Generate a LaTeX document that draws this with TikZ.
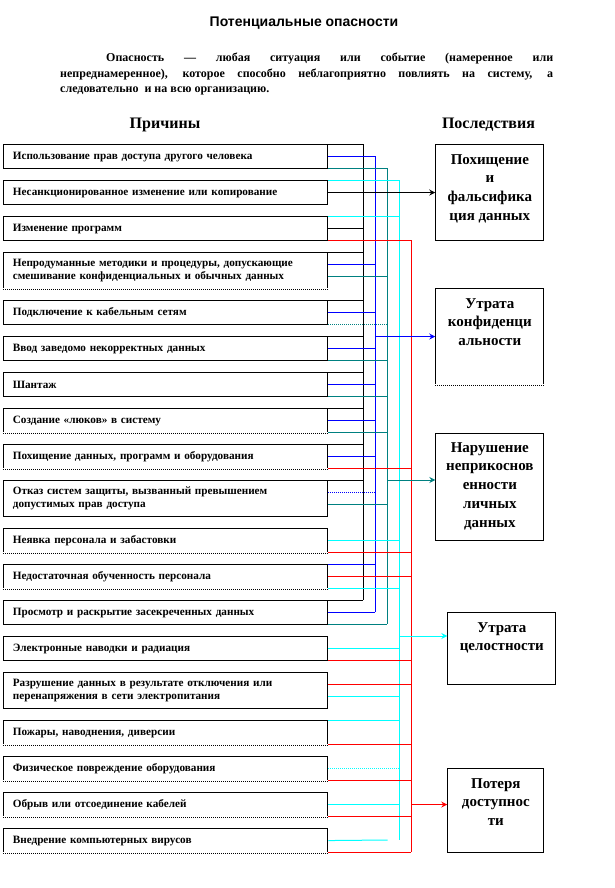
\documentclass[tikz,border=0pt]{standalone}
\usepackage{fontspec}
\setmainfont{Liberation Serif}
\newfontfamily\titlefont{Liberation Sans}
\usetikzlibrary{calc,arrows.meta}
\definecolor{cblue}{RGB}{0,0,255}
\definecolor{cteal}{RGB}{0,128,128}
\definecolor{ccyan}{RGB}{0,255,255}
\definecolor{cred}{RGB}{255,0,0}
\tikzset{
  cause/.style={draw, line width=1.1pt, rectangle, anchor=north west,
    minimum width=324pt, minimum height=24pt, inner xsep=9pt, inner ysep=0pt,
    text width=306pt, align=left, font=\fontsize{11.2}{12.8}\selectfont\bfseries},
  tallbox/.style={minimum height=36pt},
  conbox/.style={draw, line width=1.1pt, rectangle, anchor=north west, inner sep=0pt},
  context/.style={anchor=north, inner sep=0pt, align=center,
    font=\fontsize{15}{18.7}\selectfont\bfseries},
  head/.style={inner sep=0pt, font=\fontsize{16}{18}\selectfont\bfseries},
  wire/.style={line width=1pt},
  kwire/.style={wire, black},
  bwire/.style={wire, cblue},
  twire/.style={wire, cteal},
  cwire/.style={wire, ccyan},
  rwire/.style={wire, cred},
  dotwire/.style={dash pattern=on 1pt off 1pt},
  arr/.style={-{Stealth[length=6pt,width=6pt]}},
}
\newcommand\wireto[4]{\draw[#1] ($(#2.north east)+(0,#3)$) coordinate (wstart) -- (wstart -| #4);}
\newcommand\dotbot[1]{\draw[white, line width=1.5pt] (#1.south west) -- (#1.south east);
  \draw[line width=1.1pt, dash pattern=on 1pt off 1pt] (#1.south west) -- (#1.south east);}
\begin{document}
\begin{tikzpicture}[x=1pt,y=-1pt]
\useasboundingbox[fill=white] (0,0) rectangle (615,888);

\node[font=\titlefont\bfseries\fontsize{14}{16}\selectfont, inner sep=0pt] (title) at (304,23) {Потенциальные опасности};
\node[anchor=north west, inner sep=0pt, text width=493pt, align=justify,
  font=\fontsize{12}{15.5}\selectfont\bfseries] (para) at (60,53)
  {\hspace*{46pt}Опасность — любая ситуация или событие (намеренное или\linebreak
   непреднамеренное), которое способно неблагоприятно повлиять на систему, а\linebreak
   следовательно\ \ и на всю организацию.};
\node[head] (causes) at (165,125) {Причины};
\node[head] (effects) at (488.5,125) {Последствия};

% causes
\node[cause] (b1) at (3.3,144) {Использование прав доступа другого человека};
\node[cause] (b2) at (3.3,180) {Несанкционированное изменение или копирование};
\node[cause] (b3) at (3.3,216) {Изменение программ};
\node[cause, tallbox] (b4) at (3.3,252) {Непродуманные методики и процедуры, допускающие\\смешивание конфиденциальных и обычных данных};
\node[cause] (b5) at (3.3,300) {Подключение к кабельным сетям};
\node[cause] (b6) at (3.3,336) {Ввод заведомо некорректных данных};
\node[cause] (b7) at (3.3,372) {Шантаж};
\node[cause] (b8) at (3.3,408) {Создание «люков» в систему};
\node[cause] (b9) at (3.3,444) {Похищение данных, программ и оборудования};
\node[cause, tallbox] (b10) at (3.3,480) {Отказ систем защиты, вызванный превышением\\допустимых прав доступа};
\node[cause] (b11) at (3.3,528) {Неявка персонала и забастовки};
\node[cause] (b12) at (3.3,564) {Недостаточная обученность персонала};
\node[cause] (b13) at (3.3,600) {Просмотр и раскрытие засекреченных данных};
\node[cause] (b14) at (3.3,636) {Электронные наводки и радиация};
\node[cause, tallbox] (b15) at (3.3,672) {Разрушение данных в результате отключения или\\перенапряжения в сети электропитания};
\node[cause] (b16) at (3.3,720) {Пожары, наводнения, диверсии};
\node[cause] (b17) at (3.3,756) {Физическое повреждение оборудования};
\node[cause] (b18) at (3.3,792) {Обрыв или отсоединение кабелей};
\node[cause] (b19) at (3.3,828) {Внедрение компьютерных вирусов};
\foreach \b in {b4,b8,b9,b11,b12,b16,b17,b18,b19}{\dotbot{\b}}

% consequences
\node[conbox, minimum width=108pt, minimum height=96pt] (c1) at (435.3,144) {};
\node[conbox, minimum width=108pt, minimum height=96pt] (c2) at (435.3,288) {};
\node[conbox, minimum width=108pt, minimum height=107.3pt] (c3) at (435.3,432.7) {};
\node[conbox, minimum width=108pt, minimum height=72pt] (c4) at (447.3,612) {};
\node[conbox, minimum width=96pt, minimum height=84pt] (c5) at (447.3,768) {};
\dotbot{c2}
\node[context] (t1) at ($(c1.north)+(0,10)$) {Похищение\\и\\фальсифика\\ция данных};
\node[context] (t2) at ($(c2.north)+(0,10)$) {Утрата\\конфиденци\\альности};
\node[context] (t3) at ($(c3.north)+(0,9.5)$) {Нарушение\\неприкоснов\\енности\\личных\\данных};
\node[context] (t4) at ($(c4.north)+(0,10)$) {Утрата\\целостности};
\node[context] (t5) at ($(c5.north)+(0,10)$) {Потеря\\доступнос\\ти};

% buses
\coordinate (kbus) at (363,144); \coordinate (kbusend) at (363,600);
\coordinate (bbus) at (375,156); \coordinate (bbusend) at (375,612);
\coordinate (tbus) at (387,168); \coordinate (tbusend) at (387,624);
\coordinate (cbus) at (399,180); \coordinate (cbusend) at (399,840);
\coordinate (rbus) at (411,240); \coordinate (rbusend) at (411,852);
\draw[kwire] (kbus) -- (kbusend);
\draw[bwire] (bbus) -- (bbusend);
\draw[twire] (tbus) -- (tbusend);
\draw[cwire] (cbus) -- (cbusend);
\draw[rwire] (rbus) -- (rbusend);

% taps
\wireto{kwire}{b1}{0}{kbus} \wireto{bwire}{b1}{12}{bbus} \wireto{twire}{b1}{24}{tbus}
\wireto{cwire}{b2}{0}{cbus}
\wireto{cwire}{b3}{0}{cbus} \wireto{kwire}{b3}{12}{kbus} \wireto{rwire}{b3}{24}{rbus}
\wireto{kwire}{b4}{0}{kbus} \wireto{bwire}{b4}{12}{bbus} \wireto{twire}{b4}{24}{tbus}
\wireto{kwire}{b5}{0}{kbus} \wireto{bwire}{b5}{12}{bbus} \wireto{twire,dotwire}{b5}{24}{tbus}
\wireto{kwire}{b6}{0}{kbus} \wireto{bwire}{b6}{12}{bbus} \wireto{twire}{b6}{24}{tbus}
\wireto{kwire}{b7}{0}{kbus} \wireto{bwire}{b7}{12}{bbus} \wireto{twire}{b7}{24}{tbus}
\wireto{kwire}{b8}{0}{kbus} \wireto{bwire}{b8}{12}{bbus} \wireto{twire}{b8}{24}{tbus}
\wireto{kwire}{b9}{0}{kbus} \wireto{bwire}{b9}{12}{bbus} \wireto{rwire}{b9}{24}{rbus}
\wireto{kwire}{b10}{0}{kbus} \wireto{bwire,dotwire}{b10}{12}{bbus} \wireto{twire}{b10}{24}{tbus}
\wireto{cwire}{b11}{12}{cbus} \wireto{rwire}{b11}{24}{rbus}
\wireto{bwire}{b12}{0}{bbus} \wireto{rwire}{b12}{12}{rbus} \wireto{cwire}{b12}{24}{cbus}
\wireto{kwire}{b13}{0}{kbus} \wireto{bwire}{b13}{12}{bbus} \wireto{twire}{b13}{24}{tbus}
\wireto{cwire}{b14}{12}{cbus} \wireto{rwire}{b14}{24}{rbus}
\wireto{rwire}{b15}{12}{rbus} \wireto{cwire}{b15}{24}{cbus}
\wireto{cwire}{b16}{0}{cbus} \wireto{rwire}{b16}{24}{rbus}
\wireto{cwire,dotwire}{b17}{12}{cbus} \wireto{rwire}{b17}{24}{rbus}
\wireto{cwire}{b18}{12}{cbus} \wireto{rwire}{b18}{24}{rbus}
\coordinate (cshort) at (387.7,840);
\draw[cwire] (b19.east) -- (cshort);
\wireto{rwire}{b19}{24}{rbus}

% arrows to consequences
\draw[kwire, arr] (b2.east) -- (c1.west |- b2.east);
\draw[bwire, arr] (bbus |- c2.west) -- (c2.west);
\draw[twire, arr] (tbus |- b10.north) -- (c3.west |- b10.north);
\draw[cwire, arr] (cbus |- b14.north) -- (c4.west |- b14.north);
\draw[rwire, arr] (rbus |- b18.east) -- (c5.west |- b18.east);
\end{tikzpicture}
\end{document}
